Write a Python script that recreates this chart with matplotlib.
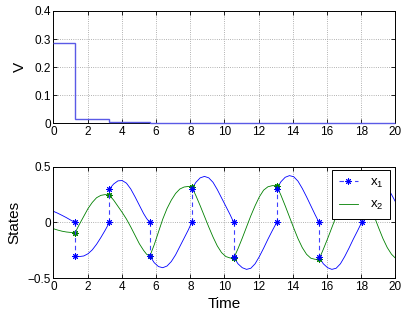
import matplotlib
matplotlib.use("Agg")
import matplotlib.pyplot as plt
from matplotlib.lines import Line2D

plt.rcParams["font.family"] = ["Liberation Sans", "DejaVu Sans"]
plt.rcParams["mathtext.default"] = "regular"

# --- V (stairs) ---
v_edges = [0, 1.27, 3.27, 5.64, 8.08, 10.54, 13.05, 15.53, 18.02, 20]
v_vals = [0.285, 0.016, 0.005, 0.0015, 0.0005, 0.0002, 0.0001, 0.0, 0.0]

# --- states, one list per flow segment between jumps ---
seg_t = [
    [0, 0.25, 0.5, 0.75, 1.0, 1.27],
    [1.27, 1.52, 1.77, 2.02, 2.27, 2.52, 2.77, 3.02, 3.27],
    [3.27, 3.52, 3.77, 4.02, 4.27, 4.52, 4.77, 5.02, 5.27, 5.45, 5.64],
    [5.64, 5.89, 6.14, 6.39, 6.64, 6.89, 7.14, 7.39, 7.64, 7.89, 8.08],
    [8.08, 8.33, 8.58, 8.83, 9.08, 9.33, 9.58, 9.83, 10.08, 10.33, 10.54],
    [10.54, 10.79, 11.04, 11.29, 11.54, 11.79, 12.04, 12.29, 12.54, 12.79, 13.05],
    [13.05, 13.30, 13.55, 13.80, 14.05, 14.30, 14.55, 14.80, 15.05, 15.30, 15.53],
    [15.53, 15.78, 16.03, 16.28, 16.53, 16.78, 17.03, 17.28, 17.53, 17.78, 18.02],
    [18.02, 18.27, 18.52, 18.77, 19.02, 19.27, 19.52, 19.77, 20.0],
]
seg_x1 = [
    [0.10, 0.083, 0.064, 0.044, 0.022, 0.0],
    [-0.30, -0.305, -0.30, -0.28, -0.245, -0.195, -0.135, -0.07, 0.0],
    [0.30, 0.345, 0.373, 0.376, 0.352, 0.30, 0.23, 0.155, 0.08, 0.035, 0.0],
    [-0.30, -0.36, -0.395, -0.405, -0.39, -0.35, -0.29, -0.215, -0.14, -0.065, 0.0],
    [0.30, 0.36, 0.40, 0.413, 0.40, 0.36, 0.295, 0.22, 0.145, 0.07, 0.0],
    [-0.31, -0.37, -0.405, -0.42, -0.41, -0.37, -0.305, -0.23, -0.15, -0.075, 0.0],
    [0.30, 0.365, 0.405, 0.42, 0.41, 0.37, 0.305, 0.23, 0.15, 0.07, 0.0],
    [-0.31, -0.37, -0.405, -0.42, -0.41, -0.37, -0.305, -0.23, -0.15, -0.075, 0.0],
    [0.30, 0.36, 0.40, 0.42, 0.41, 0.375, 0.32, 0.25, 0.185],
]
seg_x2 = [
    [-0.056, -0.068, -0.078, -0.085, -0.089, -0.09],
    [-0.09, -0.015, 0.055, 0.125, 0.18, 0.222, 0.243, 0.25, 0.245],
    [0.245, 0.20, 0.145, 0.09, 0.03, -0.04, -0.115, -0.19, -0.25, -0.285, -0.30],
    [-0.30, -0.20, -0.085, 0.03, 0.125, 0.20, 0.26, 0.30, 0.318, 0.323, 0.322],
    [0.322, 0.24, 0.15, 0.055, -0.04, -0.13, -0.21, -0.27, -0.305, -0.318, -0.32],
    [-0.32, -0.235, -0.14, -0.04, 0.06, 0.15, 0.23, 0.29, 0.32, 0.33, 0.33],
    [0.33, 0.245, 0.15, 0.05, -0.05, -0.145, -0.225, -0.285, -0.32, -0.33, -0.33],
    [-0.33, -0.24, -0.145, -0.045, 0.055, 0.145, 0.225, 0.285, 0.32, 0.33, 0.33],
    [0.33, 0.245, 0.15, 0.05, -0.05, -0.145, -0.225, -0.285, -0.32],
]

x_ticks = list(range(0, 21, 2))
v_ticks = [0, 0.1, 0.2, 0.3, 0.4]
v_ticklabels = ["0", "0.1", "0.2", "0.3", "0.4"]
s_ticks = [-0.5, 0, 0.5]
s_ticklabels = ["\u22120.5", "0", "0.5"]

BLUE = (0, 0, 1)
JUMP_BLUE = (0.25, 0.25, 1)
GREEN = (0, 0.5, 0)
AST = (8, 2, 0)
DASH = (0, (4, 3))
FS = 8.5


def stil_axa(ax):
    ax.tick_params(direction="in", length=3, width=0.6, top=True, right=True,
                   pad=2, labelsize=FS)
    ax.grid(True, ls=":", color="0.6", lw=0.6)
    for s in ax.spines.values():
        s.set_linewidth(0.7)
    ax.set_xlim(0, 20)
    ax.set_xticks(x_ticks)


fig = plt.figure(figsize=(4.07, 3.16), dpi=100)
ax1 = fig.add_axes([0.1314, 0.6098, 0.8403, 0.3554])
ax2 = fig.add_axes([0.1314, 0.1193, 0.8403, 0.3532])

# panou sus: V
stil_axa(ax1)
ax1.stairs(v_vals, v_edges, color="#5a5ae6", lw=1.0, baseline=None,
           clip_on=False, zorder=4)
ax1.set_ylim(0, 0.4)
ax1.set_yticks(v_ticks)
ax1.set_yticklabels(v_ticklabels)
ax1.set_ylabel("V", fontsize=11, labelpad=5)

# panou jos: stari
stil_axa(ax2)
for ts, a, b in zip(seg_t, seg_x1, seg_x2):
    ax2.plot(ts, a, color=BLUE, lw=0.6)
    ax2.plot(ts, b, color=GREEN, lw=0.6)
for k in range(1, len(seg_t)):
    tj = seg_t[k][0]
    ax2.plot([tj, tj], [seg_x2[k - 1][-1], seg_x2[k][0]], ls="none",
             color=GREEN, marker=AST, ms=4.5, mew=0.7)
    ax2.plot([tj, tj], [seg_x1[k - 1][-1], seg_x1[k][0]], ls=DASH,
             color=JUMP_BLUE, lw=0.8, marker=AST, ms=4.5, mew=0.7,
             mec=BLUE)
ax2.set_ylim(-0.5, 0.5)
ax2.set_yticks(s_ticks)
ax2.set_yticklabels(s_ticklabels)
ax2.set_ylabel("States", fontsize=11, labelpad=4)
ax2.set_xlabel("Time", fontsize=11, labelpad=3)

handles = [
    Line2D([], [], color=JUMP_BLUE, lw=0.8, ls=DASH, marker=AST, ms=4.5,
           mew=0.7, mec=BLUE),
    Line2D([], [], color=GREEN, lw=0.6),
]
leg = ax2.legend(handles, ["$x_1$", "$x_2$"], loc="upper right",
                 bbox_to_anchor=(0.985, 0.972), fontsize=9.5, frameon=True,
                 fancybox=False, edgecolor="black", framealpha=1,
                 handlelength=1.5, handletextpad=0.9, borderpad=0.5,
                 labelspacing=0.7, borderaxespad=0)
leg.get_frame().set_linewidth(0.7)

fig.savefig("out.png", dpi=100)
